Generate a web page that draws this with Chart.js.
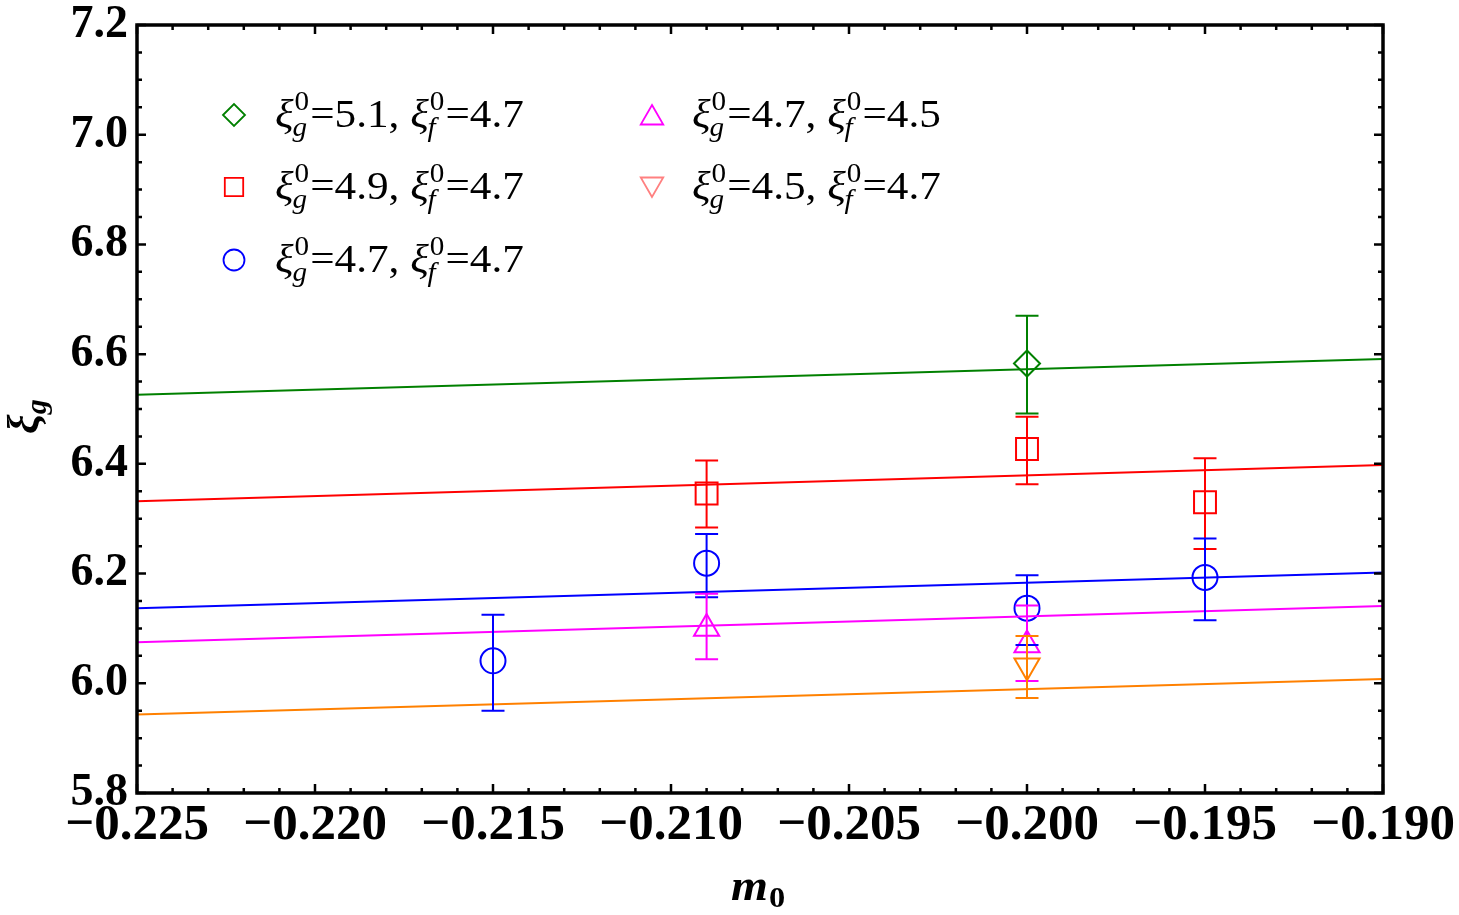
<!DOCTYPE html>
<html><head><meta charset="utf-8">
<script src="https://cdn.jsdelivr.net/npm/chart.js@4"></script>
<style>html,body{margin:0;padding:0;background:#fff;}#wrap{width:1459px;height:915px;position:relative;}</style>
</head><body><div id="wrap"><canvas id="c" width="1459" height="915"></canvas></div>
<script>
// ---- tick labels ----
const xTicks = [-0.225, -0.220, -0.215, -0.210, -0.205, -0.200, -0.195, -0.190];
const yTicks = [5.8, 6.0, 6.2, 6.4, 6.6, 6.8, 7.0, 7.2];

// ---- legend values ----
const gVals = ['5.1', '4.9', '4.7', '4.7', '4.5'];
const fVals = ['4.7', '4.7', '4.7', '4.5', '4.7'];

// ---- data points (m0, xi_g, lower, upper) ----
const greenX = [-0.200];
const greenY = [6.583];
const greenLo = [6.492];
const greenHi = [6.670];

const redX = [-0.209, -0.200, -0.195];
const redY = [6.346, 6.427, 6.330];
const redLo = [6.284, 6.363, 6.245];
const redHi = [6.406, 6.486, 6.410];

const blueX = [-0.215, -0.209, -0.200, -0.195];
const blueY = [6.041, 6.219, 6.137, 6.193];
const blueLo = [5.950, 6.157, 6.070, 6.115];
const blueHi = [6.125, 6.272, 6.197, 6.264];

const magentaX = [-0.209, -0.200];
const magentaY = [6.100, 6.070];
const magentaLo = [6.044, 6.004];
const magentaHi = [6.163, 6.142];

const orangeX = [-0.200];
const orangeY = [6.032];
const orangeLo = [5.973];
const orangeHi = [6.086];

// ---- fit lines ----
const fitX = [-0.225, -0.190];
const greenFit = [6.526, 6.591];
const redFit = [6.332, 6.398];
const blueFit = [6.137, 6.202];
const magentaFit = [6.075, 6.141];
const orangeFit = [5.943, 6.008];

const C = {green:'#008000', red:'#ff0000', blue:'#0000ff', magenta:'#ff00ff', orange:'#ff8000', pink:'#ff8080'};
const SERIF = '"Liberation Serif","Times New Roman",serif';

const pts = (xs, ys) => xs.map((x, i) => ({x, y: ys[i]}));
function pointSet(xs, ys, lo, hi, color, style, radius, rot) {
  return {data: pts(xs, ys), errLo: lo, errHi: hi, borderColor: color, backgroundColor: 'rgba(0,0,0,0)',
    pointStyle: style, pointRadius: radius, pointHoverRadius: radius, pointBorderWidth: 2, pointRotation: rot || 0, showLine: false};
}
function fitSet(ys, color) {
  return {data: pts(fitX, ys), borderColor: color, borderWidth: 2, pointRadius: 0, showLine: true, fill: false};
}

const errorBarPlugin = {
  id: 'errorBars',
  afterDatasetsDraw(chart) {
    const ctx = chart.ctx, ys = chart.scales.y;
    chart.data.datasets.forEach((ds, di) => {
      if (!ds.errLo) return;
      const meta = chart.getDatasetMeta(di);
      ctx.save();
      ctx.strokeStyle = ds.borderColor; ctx.lineWidth = 2;
      meta.data.forEach((pt, i) => {
        const x = pt.x, yl = ys.getPixelForValue(ds.errLo[i]), yh = ys.getPixelForValue(ds.errHi[i]);
        ctx.beginPath();
        ctx.moveTo(x, yl); ctx.lineTo(x, yh);
        ctx.moveTo(x - 11.5, yl); ctx.lineTo(x + 11.5, yl);
        ctx.moveTo(x - 11.5, yh); ctx.lineTo(x + 11.5, yh);
        ctx.stroke();
      });
      ctx.restore();
    });
  }
};

const frameMinorX = 0.001, frameMinorY = 0.05;
const TEXT_SX = 1.08;
const framePlugin = {
  id: 'frame',
  afterDraw(chart) {
    const ctx = chart.ctx, ca = chart.chartArea, xs = chart.scales.x, ys = chart.scales.y;
    ctx.save();
    ctx.strokeStyle = '#000'; ctx.lineWidth = 2.5;
    ctx.beginPath();
    const nx = Math.round((xs.max - xs.min) / frameMinorX);
    for (let k = 0; k <= nx; k++) {
      const px = xs.getPixelForValue(xs.min + k * frameMinorX);
      const L = (k % 5 === 0) ? 9 : 5;
      ctx.moveTo(px, ca.bottom); ctx.lineTo(px, ca.bottom - L);
      ctx.moveTo(px, ca.top); ctx.lineTo(px, ca.top + L);
    }
    const ny = Math.round((ys.max - ys.min) / frameMinorY);
    for (let k = 0; k <= ny; k++) {
      const py = ys.getPixelForValue(ys.min + k * frameMinorY);
      const L = (k % 4 === 0) ? 9 : 5;
      ctx.moveTo(ca.left, py); ctx.lineTo(ca.left + L, py);
      ctx.moveTo(ca.right, py); ctx.lineTo(ca.right - L, py);
    }
    ctx.stroke();
    ctx.lineWidth = 3.5;
    ctx.strokeRect(ca.left, ca.top, ca.right - ca.left, ca.bottom - ca.top);
    ctx.restore();

    // legend
    const entries = [
      {style: 'rectRot', r: 11, color: C.green, x: 234, y: 115, rot: 0},
      {style: 'rect', r: 13, color: C.red, x: 234, y: 187, rot: 0},
      {style: 'circle', r: 10.5, color: C.blue, x: 234, y: 260, rot: 0},
      {style: 'triangle', r: 13, color: C.magenta, x: 652, y: 118, rot: 0},
      {style: 'triangle', r: 13, color: C.pink, x: 652, y: 184, rot: 180}
    ];
    const textX = [275, 275, 275, 692, 692];
    const baseY = [127, 199, 272, 127, 199];
    entries.forEach((e, i) => {
      ctx.save();
      ctx.strokeStyle = e.color; ctx.fillStyle = 'rgba(0,0,0,0)';
      ctx.lineWidth = 1.8;
      Chart.helpers.drawPoint(ctx, {pointStyle: e.style, radius: e.r, rotation: e.rot, borderWidth: 1.8}, e.x, e.y);
      ctx.restore();
      ctx.save();
      ctx.translate(textX[i], baseY[i]); ctx.scale(TEXT_SX, 1);
      ctx.fillStyle = '#000'; ctx.textBaseline = 'alphabetic'; ctx.textAlign = 'left';
      let x = drawXi(ctx, 0, 0, 'g', gVals[i]);
      ctx.font = '40px ' + SERIF; ctx.fillText(', ', x, 0); x += ctx.measureText(', ').width;
      drawXi(ctx, x, 0, 'f', fVals[i]);
      ctx.restore();
    });

    // axis titles
    ctx.save();
    ctx.fillStyle = '#000'; ctx.textBaseline = 'alphabetic'; ctx.textAlign = 'left';
    ctx.translate(731, 900); ctx.scale(TEXT_SX, 1);
    ctx.font = 'italic bold 44px ' + SERIF;
    ctx.fillText('m', 0, 0);
    const mw = ctx.measureText('m').width;
    ctx.font = 'bold 30px ' + SERIF;
    ctx.fillText('0', mw + 1, 7);
    ctx.restore();

    ctx.save();
    ctx.fillStyle = '#000'; ctx.textBaseline = 'alphabetic'; ctx.textAlign = 'left';
    ctx.translate(38, 434); ctx.rotate(-Math.PI / 2);
    ctx.font = 'italic bold 44px ' + SERIF;
    ctx.fillText('ξ', 0, 0);
    const xw = ctx.measureText('ξ').width;
    ctx.font = 'italic bold 30px ' + SERIF;
    ctx.fillText('g', xw, 8);
    ctx.restore();
  }
};

function drawXi(ctx, x, base, sub, val) {
  ctx.font = 'italic 40px ' + SERIF;
  ctx.fillText('ξ', x, base);
  x += ctx.measureText('ξ').width;
  ctx.font = '27px ' + SERIF;
  ctx.fillText('0', x + 1, base - 17);
  const w0 = ctx.measureText('0').width;
  ctx.font = 'italic 27px ' + SERIF;
  ctx.fillText(sub, x - 1, base + 9);
  const ws = ctx.measureText(sub).width;
  x += Math.max(w0 + 1, ws) + 1;
  ctx.font = '40px ' + SERIF;
  ctx.fillText('=' + val, x, base);
  return x + ctx.measureText('=' + val).width;
}

const fmtX = v => (v < 0 ? '\u2212' : '') + Math.abs(v).toFixed(3);

new Chart(document.getElementById('c'), {
  type: 'scatter',
  data: {
    datasets: [
      fitSet(greenFit, C.green),
      fitSet(redFit, C.red),
      fitSet(blueFit, C.blue),
      fitSet(magentaFit, C.magenta),
      fitSet(orangeFit, C.orange),
      pointSet(greenX, greenY, greenLo, greenHi, C.green, 'rectRot', 13),
      pointSet(redX, redY, redLo, redHi, C.red, 'rect', 15.5),
      pointSet(blueX, blueY, blueLo, blueHi, C.blue, 'circle', 12.5),
      pointSet(magentaX, magentaY, magentaLo, magentaHi, C.magenta, 'triangle', 14.5),
      pointSet(orangeX, orangeY, orangeLo, orangeHi, C.orange, 'triangle', 14.5, 180)
    ]
  },
  options: {
    responsive: false, animation: false, devicePixelRatio: 1,
    layout: {padding: {top: 25, right: 76, left: 0, bottom: 0}},
    plugins: {legend: {display: false}, tooltip: {enabled: false}},
    scales: {
      x: {
        type: 'linear', min: -0.225, max: -0.190,
        afterBuildTicks: s => { s.ticks = xTicks.map(v => ({value: v})); },
        afterFit: s => { s.height = 122; s.paddingLeft = 0; s.paddingRight = 0; },
        grid: {display: false, drawTicks: false}, border: {display: false},
        ticks: {color: '#000', font: {family: SERIF, size: 51, weight: 'bold'}, padding: 2,
          maxRotation: 0, autoSkip: false, callback: v => fmtX(v)}
      },
      y: {
        type: 'linear', min: 5.8, max: 7.2,
        afterBuildTicks: s => { s.ticks = yTicks.map(v => ({value: v})); },
        afterFit: s => { s.width = 137; s.paddingTop = 0; s.paddingBottom = 0; },
        grid: {display: false, drawTicks: false}, border: {display: false},
        ticks: {color: '#000', font: {family: SERIF, size: 46, weight: 'bold'}, padding: 9,
          autoSkip: false, callback: v => v.toFixed(1)}
      }
    }
  },
  plugins: [errorBarPlugin, framePlugin]
});
</script>
</body></html>
